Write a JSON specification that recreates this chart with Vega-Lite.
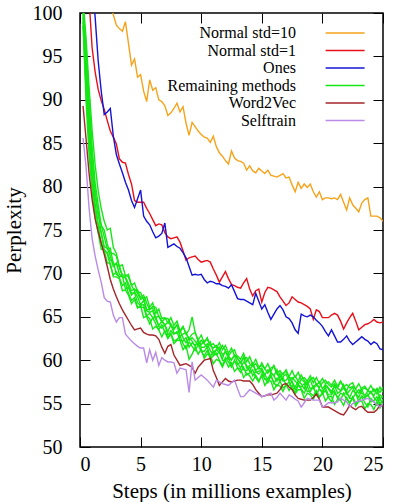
{
  "$schema": "https://vega.github.io/schema/vega-lite/v6.json",
  "width": 303,
  "height": 434,
  "autosize": {"type": "none"},
  "padding": {"left": 80, "top": 13, "right": 17, "bottom": 55},
  "background": "white",
  "datasets": {
    "runs": [
      {"x":0.25,"o":null,"r":null,"b":null,"w":89.3,"s":85.6,"g1":101.5,"g2":101.0,"g3":100.5,"g4":100.0,"g5":99.5,"g6":99.0,"g7":98.5},
      {"x":0.5,"o":null,"r":null,"b":null,"w":85.5,"s":82.3,"g1":97.1,"g2":95.9,"g3":94.7,"g4":93.5,"g5":92.3,"g6":91.1,"g7":89.9},
      {"x":0.75,"o":null,"r":101.5,"b":null,"w":81.5,"s":77.5,"g1":91.4,"g2":90.1,"g3":88.8,"g4":87.5,"g5":86.2,"g6":84.9,"g7":83.6},
      {"x":1.0,"o":null,"r":96.0,"b":104.0,"w":78.5,"s":74.0,"g1":86.5,"g2":84.5,"g3":83.5,"g4":82.5,"g5":81.5,"g6":80.5,"g7":79.5},
      {"x":1.25,"o":null,"r":93.2,"b":99.5,"w":76.3,"s":72.0,"g1":82.5,"g2":80.4,"g3":79.6,"g4":78.8,"g5":78.0,"g6":77.2,"g7":76.4},
      {"x":1.5,"o":null,"r":91.2,"b":94.5,"w":74.8,"s":70.4,"g1":79.5,"g2":77.9,"g3":76.7,"g4":77.0,"g5":75.7,"g6":75.6,"g7":74.7},
      {"x":1.75,"o":null,"r":89.9,"b":91.0,"w":73.5,"s":69.0,"g1":77.5,"g2":75.5,"g3":75.6,"g4":74.7,"g5":74.7,"g6":73.4,"g7":72.8},
      {"x":2.0,"o":null,"r":88.9,"b":88.3,"w":72.2,"s":67.2,"g1":76.0,"g2":75.0,"g3":74.2,"g4":73.1,"g5":72.7,"g6":72.7,"g7":72.7},
      {"x":2.25,"o":null,"r":87.6,"b":88.6,"w":70.8,"s":66.8,"g1":75.0,"g2":73.4,"g3":72.8,"g4":72.9,"g5":72.4,"g6":72.3,"g7":71.2},
      {"x":2.5,"o":101.0,"r":86.4,"b":89.0,"w":69.3,"s":66.7,"g1":75.2,"g2":72.3,"g3":72.9,"g4":72.0,"g5":71.5,"g6":70.9,"g7":71.2},
      {"x":2.75,"o":99.8,"r":85.7,"b":85.8,"w":68.2,"s":65.2,"g1":73.0,"g2":72.3,"g3":71.1,"g4":70.8,"g5":71.3,"g6":69.8,"g7":69.6},
      {"x":3.0,"o":98.6,"r":84.9,"b":83.7,"w":67.3,"s":64.4,"g1":72.3,"g2":72.0,"g3":71.0,"g4":71.2,"g5":69.9,"g6":70.2,"g7":69.6},
      {"x":3.25,"o":98.2,"r":83.2,"b":82.6,"w":66.5,"s":64.9,"g1":70.8,"g2":70.6,"g3":70.9,"g4":69.9,"g5":69.6,"g6":69.5,"g7":69.4},
      {"x":3.5,"o":97.9,"r":82.8,"b":81.6,"w":65.8,"s":64.9,"g1":71.0,"g2":69.8,"g3":69.6,"g4":69.6,"g5":69.7,"g6":68.6,"g7":68.0},
      {"x":3.75,"o":99.0,"r":82.7,"b":80.5,"w":65.2,"s":63.0,"g1":69.7,"g2":69.8,"g3":69.6,"g4":69.5,"g5":68.2,"g6":68.9,"g7":68.1},
      {"x":4.0,"o":96.5,"r":81.4,"b":79.6,"w":64.6,"s":62.6,"g1":69.9,"g2":69.6,"g3":68.8,"g4":68.4,"g5":68.4,"g6":67.7,"g7":67.5},
      {"x":4.25,"o":94.0,"r":80.3,"b":78.4,"w":64.0,"s":62.2,"g1":68.6,"g2":68.6,"g3":68.0,"g4":67.5,"g5":67.7,"g6":66.9,"g7":66.5},
      {"x":4.5,"o":94.7,"r":78.4,"b":77.6,"w":63.5,"s":61.9,"g1":68.9,"g2":68.0,"g3":68.2,"g4":67.9,"g5":67.8,"g6":67.2,"g7":67.0},
      {"x":4.75,"o":92.6,"r":78.2,"b":78.6,"w":63.6,"s":61.6,"g1":67.9,"g2":68.1,"g3":67.7,"g4":67.3,"g5":66.6,"g6":66.1,"g7":66.0},
      {"x":5.0,"o":92.9,"r":78.2,"b":79.6,"w":63.7,"s":61.4,"g1":67.8,"g2":67.2,"g3":67.0,"g4":66.4,"g5":66.3,"g6":66.1,"g7":66.3},
      {"x":5.25,"o":91.0,"r":78.2,"b":76.6,"w":63.2,"s":61.4,"g1":67.0,"g2":67.5,"g3":67.2,"g4":66.9,"g5":66.4,"g6":66.1,"g7":64.9},
      {"x":5.5,"o":89.8,"r":77.5,"b":76.0,"w":63.0,"s":59.7,"g1":67.3,"g2":66.6,"g3":65.8,"g4":65.7,"g5":65.1,"g6":65.0,"g7":65.1},
      {"x":5.75,"o":92.3,"r":76.9,"b":75.6,"w":62.9,"s":61.2,"g1":66.1,"g2":65.8,"g3":65.9,"g4":65.5,"g5":65.4,"g6":64.2,"g7":64.8},
      {"x":6.0,"o":91.1,"r":76.2,"b":74.8,"w":62.9,"s":60.0,"g1":66.6,"g2":66.2,"g3":66.0,"g4":65.7,"g5":64.9,"g6":64.9,"g7":63.6},
      {"x":6.25,"o":91.4,"r":75.5,"b":74.1,"w":62.8,"s":60.9,"g1":65.4,"g2":66.1,"g3":64.9,"g4":64.7,"g5":65.0,"g6":64.2,"g7":63.9},
      {"x":6.5,"o":90.0,"r":75.7,"b":74.3,"w":62.4,"s":59.4,"g1":65.9,"g2":65.0,"g3":65.1,"g4":64.0,"g5":63.9,"g6":63.5,"g7":63.5},
      {"x":6.75,"o":89.8,"r":75.6,"b":74.6,"w":61.5,"s":60.3,"g1":64.8,"g2":64.4,"g3":64.5,"g4":64.5,"g5":63.7,"g6":64.1,"g7":62.7},
      {"x":7.0,"o":89.3,"r":74.7,"b":75.8,"w":60.8,"s":60.0,"g1":64.9,"g2":64.8,"g3":64.0,"g4":64.1,"g5":64.1,"g6":63.2,"g7":63.4},
      {"x":7.25,"o":88.2,"r":74.2,"b":73.0,"w":61.6,"s":59.8,"g1":64.3,"g2":64.8,"g3":64.4,"g4":63.3,"g5":62.9,"g6":62.6,"g7":62.5},
      {"x":7.5,"o":88.5,"r":74.0,"b":73.2,"w":61.8,"s":59.8,"g1":64.9,"g2":64.1,"g3":64.0,"g4":64.1,"g5":63.4,"g6":63.1,"g7":63.0},
      {"x":7.75,"o":89.0,"r":74.1,"b":73.4,"w":60.6,"s":59.7,"g1":64.0,"g2":63.7,"g3":63.5,"g4":63.1,"g5":63.0,"g6":62.2,"g7":61.9},
      {"x":8.0,"o":89.6,"r":74.2,"b":73.1,"w":60.0,"s":58.5,"g1":64.5,"g2":64.0,"g3":64.1,"g4":63.1,"g5":63.3,"g6":62.4,"g7":62.3},
      {"x":8.25,"o":88.6,"r":73.6,"b":72.9,"w":59.4,"s":59.1,"g1":63.4,"g2":63.2,"g3":62.7,"g4":63.4,"g5":62.3,"g6":62.8,"g7":62.3},
      {"x":8.5,"o":89.2,"r":72.6,"b":72.4,"w":59.5,"s":59.0,"g1":63.9,"g2":63.8,"g3":63.0,"g4":62.6,"g5":62.2,"g6":61.9,"g7":61.2},
      {"x":8.75,"o":87.3,"r":71.5,"b":71.8,"w":59.6,"s":58.9,"g1":63.0,"g2":63.1,"g3":63.2,"g4":62.0,"g5":62.6,"g6":61.3,"g7":61.7},
      {"x":9.0,"o":85.9,"r":71.8,"b":70.8,"w":59.4,"s":56.3,"g1":63.5,"g2":62.5,"g3":62.3,"g4":62.6,"g5":61.5,"g6":62.1,"g7":60.1},
      {"x":9.25,"o":87.4,"r":71.9,"b":69.8,"w":59.2,"s":59.8,"g1":65.0,"g2":63.0,"g3":62.6,"g4":62.2,"g5":62.0,"g6":61.6,"g7":60.7},
      {"x":9.5,"o":86.9,"r":72.0,"b":69.9,"w":58.5,"s":57.7,"g1":63.2,"g2":63.2,"g3":62.2,"g4":61.6,"g5":61.7,"g6":61.1,"g7":61.5},
      {"x":9.75,"o":86.4,"r":71.6,"b":69.8,"w":59.2,"s":58.0,"g1":62.3,"g2":62.2,"g3":61.7,"g4":62.4,"g5":62.0,"g6":61.8,"g7":60.7},
      {"x":10.0,"o":86.0,"r":71.3,"b":69.9,"w":59.6,"s":58.3,"g1":62.9,"g2":61.8,"g3":62.3,"g4":61.5,"g5":61.1,"g6":61.0,"g7":61.3},
      {"x":10.25,"o":85.7,"r":71.4,"b":69.3,"w":60.0,"s":58.0,"g1":62.0,"g2":62.2,"g3":61.9,"g4":61.5,"g5":61.0,"g6":60.5,"g7":60.2},
      {"x":10.5,"o":85.6,"r":71.5,"b":68.9,"w":60.1,"s":57.7,"g1":62.6,"g2":62.4,"g3":61.5,"g4":61.9,"g5":61.5,"g6":61.1,"g7":60.7},
      {"x":10.75,"o":85.1,"r":71.3,"b":69.1,"w":60.2,"s":57.3,"g1":61.7,"g2":61.7,"g3":62.1,"g4":61.1,"g5":60.4,"g6":60.2,"g7":60.6},
      {"x":11.0,"o":85.8,"r":70.5,"b":69.0,"w":58.8,"s":56.9,"g1":61.9,"g2":61.4,"g3":60.9,"g4":60.6,"g5":61.0,"g6":60.5,"g7":59.6},
      {"x":11.25,"o":84.6,"r":69.8,"b":68.8,"w":58.0,"s":57.7,"g1":61.4,"g2":61.7,"g3":61.2,"g4":61.2,"g5":60.6,"g6":60.8,"g7":60.1},
      {"x":11.5,"o":83.9,"r":69.0,"b":68.8,"w":57.1,"s":57.5,"g1":62.0,"g2":61.1,"g3":61.5,"g4":60.9,"g5":61.0,"g6":60.0,"g7":59.9},
      {"x":11.75,"o":83.5,"r":69.6,"b":68.6,"w":57.5,"s":57.3,"g1":61.2,"g2":61.7,"g3":60.6,"g4":60.2,"g5":60.0,"g6":59.4,"g7":59.2},
      {"x":12.0,"o":83.0,"r":70.2,"b":68.5,"w":57.9,"s":57.2,"g1":61.7,"g2":61.1,"g3":61.0,"g4":61.1,"g5":60.0,"g6":60.3,"g7":60.0},
      {"x":12.25,"o":82.6,"r":69.4,"b":68.3,"w":57.6,"s":57.1,"g1":60.8,"g2":60.5,"g3":60.5,"g4":60.1,"g5":60.4,"g6":59.8,"g7":59.2},
      {"x":12.5,"o":84.1,"r":68.7,"b":68.7,"w":57.5,"s":57.4,"g1":61.4,"g2":61.0,"g3":60.0,"g4":60.1,"g5":59.3,"g6":59.2,"g7":59.7},
      {"x":12.75,"o":83.3,"r":68.6,"b":67.9,"w":57.6,"s":57.7,"g1":60.5,"g2":61.2,"g3":60.6,"g4":60.5,"g5":59.9,"g6":60.0,"g7":58.7},
      {"x":13.0,"o":83.0,"r":68.4,"b":67.1,"w":57.7,"s":56.7,"g1":60.5,"g2":60.2,"g3":60.2,"g4":59.7,"g5":59.5,"g6":59.1,"g7":59.1},
      {"x":13.25,"o":82.9,"r":68.3,"b":67.0,"w":57.7,"s":55.8,"g1":60.1,"g2":59.7,"g3":59.7,"g4":59.1,"g5":59.8,"g6":58.6,"g7":59.0},
      {"x":13.5,"o":82.7,"r":68.9,"b":67.0,"w":57.6,"s":55.8,"g1":60.8,"g2":60.2,"g3":60.4,"g4":59.8,"g5":58.9,"g6":59.2,"g7":58.0},
      {"x":13.75,"o":81.9,"r":69.4,"b":66.8,"w":57.6,"s":56.2,"g1":59.8,"g2":60.3,"g3":59.1,"g4":59.4,"g5":58.8,"g6":58.3,"g7":58.5},
      {"x":14.0,"o":82.4,"r":68.2,"b":66.6,"w":57.6,"s":56.6,"g1":60.4,"g2":59.6,"g3":59.4,"g4":58.7,"g5":59.2,"g6":58.5,"g7":58.2},
      {"x":14.25,"o":81.8,"r":67.4,"b":66.4,"w":57.2,"s":56.4,"g1":59.5,"g2":59.3,"g3":59.7,"g4":59.6,"g5":58.2,"g6":58.9,"g7":57.6},
      {"x":14.5,"o":81.6,"r":68.0,"b":67.7,"w":56.6,"s":56.2,"g1":60.1,"g2":59.6,"g3":58.8,"g4":58.6,"g5":58.7,"g6":58.0,"g7":58.3},
      {"x":14.75,"o":82.1,"r":68.2,"b":66.8,"w":56.2,"s":56.0,"g1":59.2,"g2":59.0,"g3":59.2,"g4":58.7,"g5":58.4,"g6":57.5,"g7":57.6},
      {"x":15.0,"o":81.8,"r":66.7,"b":65.9,"w":55.8,"s":55.8,"g1":59.4,"g2":59.7,"g3":58.8,"g4":59.1,"g5":58.8,"g6":58.4,"g7":58.2},
      {"x":15.25,"o":81.5,"r":67.8,"b":66.4,"w":55.9,"s":55.9,"g1":59.0,"g2":59.0,"g3":58.3,"g4":58.3,"g5":57.8,"g6":57.9,"g7":57.1},
      {"x":15.5,"o":81.9,"r":68.4,"b":65.5,"w":56.0,"s":56.1,"g1":59.6,"g2":58.5,"g3":58.9,"g4":57.8,"g5":57.8,"g6":57.4,"g7":57.6},
      {"x":15.75,"o":81.3,"r":68.3,"b":64.7,"w":56.0,"s":56.2,"g1":58.7,"g2":59.1,"g3":58.6,"g4":58.5,"g5":58.3,"g6":58.2,"g7":57.6},
      {"x":16.0,"o":81.2,"r":68.1,"b":65.3,"w":56.1,"s":55.4,"g1":59.4,"g2":59.3,"g3":58.2,"g4":58.2,"g5":57.3,"g6":57.4,"g7":56.6},
      {"x":16.25,"o":81.1,"r":67.9,"b":65.9,"w":56.2,"s":55.7,"g1":58.5,"g2":58.4,"g3":58.9,"g4":57.6,"g5":57.9,"g6":57.0,"g7":57.2},
      {"x":16.5,"o":81.3,"r":67.3,"b":66.3,"w":56.6,"s":56.2,"g1":58.8,"g2":58.0,"g3":57.7,"g4":58.5,"g5":57.6,"g6":57.6,"g7":57.0},
      {"x":16.75,"o":81.5,"r":66.8,"b":65.8,"w":57.2,"s":55.8,"g1":58.3,"g2":58.5,"g3":58.1,"g4":57.6,"g5":58.0,"g6":56.8,"g7":56.4},
      {"x":17.0,"o":81.0,"r":66.3,"b":65.0,"w":57.3,"s":55.4,"g1":58.9,"g2":58.7,"g3":58.4,"g4":57.7,"g5":57.1,"g6":57.1,"g7":57.2},
      {"x":17.25,"o":81.1,"r":66.6,"b":64.8,"w":56.9,"s":56.0,"g1":58.1,"g2":58.1,"g3":57.6,"g4":58.1,"g5":57.1,"g6":57.5,"g7":56.5},
      {"x":17.5,"o":80.2,"r":67.3,"b":64.3,"w":56.6,"s":55.8,"g1":58.8,"g2":57.8,"g3":58.0,"g4":57.4,"g5":57.6,"g6":56.7,"g7":57.1},
      {"x":17.75,"o":79.4,"r":67.0,"b":63.5,"w":56.0,"s":55.5,"g1":58.0,"g2":58.2,"g3":57.6,"g4":56.9,"g5":56.6,"g6":56.2,"g7":56.1},
      {"x":18.0,"o":80.5,"r":66.7,"b":63.1,"w":55.6,"s":55.3,"g1":58.6,"g2":57.6,"g3":57.2,"g4":57.6,"g5":57.2,"g6":57.1,"g7":56.6},
      {"x":18.25,"o":79.8,"r":66.6,"b":65.3,"w":55.5,"s":54.6,"g1":57.8,"g2":58.3,"g3":57.8,"g4":57.3,"g5":56.9,"g6":56.7,"g7":56.6},
      {"x":18.5,"o":80.3,"r":66.4,"b":65.1,"w":55.4,"s":55.1,"g1":58.0,"g2":57.7,"g3":57.5,"g4":56.7,"g5":57.3,"g6":56.2,"g7":55.6},
      {"x":18.75,"o":79.9,"r":66.2,"b":65.0,"w":55.4,"s":55.6,"g1":57.6,"g2":57.2,"g3":57.1,"g4":57.6,"g5":56.4,"g6":57.0,"g7":56.2},
      {"x":19.0,"o":80.3,"r":65.9,"b":65.2,"w":55.4,"s":55.5,"g1":58.2,"g2":57.8,"g3":57.8,"g4":56.7,"g5":56.4,"g6":56.2,"g7":56.0},
      {"x":19.25,"o":79.4,"r":64.7,"b":65.0,"w":55.7,"s":55.4,"g1":57.4,"g2":58.0,"g3":56.7,"g4":56.9,"g5":57.0,"g6":55.9,"g7":55.5},
      {"x":19.5,"o":78.8,"r":65.8,"b":64.6,"w":56.1,"s":55.4,"g1":58.0,"g2":57.2,"g3":57.1,"g4":57.3,"g5":56.0,"g6":56.5,"g7":56.3},
      {"x":19.75,"o":79.4,"r":65.6,"b":64.3,"w":55.5,"s":55.4,"g1":57.3,"g2":56.9,"g3":57.5,"g4":56.7,"g5":56.7,"g6":55.8,"g7":55.7},
      {"x":20.0,"o":78.5,"r":64.9,"b":63.9,"w":54.6,"s":54.6,"g1":57.9,"g2":57.4,"g3":56.7,"g4":56.2,"g5":56.4,"g6":56.1,"g7":56.3},
      {"x":20.25,"o":78.7,"r":64.9,"b":63.3,"w":54.6,"s":54.8,"g1":57.3,"g2":57.7,"g3":57.2,"g4":57.0,"g5":56.8,"g6":56.5,"g7":55.3},
      {"x":20.5,"o":78.7,"r":64.9,"b":62.8,"w":54.6,"s":55.1,"g1":57.5,"g2":57.2,"g3":56.8,"g4":56.7,"g5":56.0,"g6":55.7,"g7":55.8},
      {"x":20.75,"o":78.6,"r":65.2,"b":63.5,"w":54.4,"s":55.1,"g1":57.1,"g2":56.9,"g3":56.4,"g4":56.1,"g5":56.0,"g6":55.2,"g7":55.8},
      {"x":21.0,"o":78.7,"r":65.4,"b":62.8,"w":54.2,"s":55.1,"g1":57.7,"g2":57.3,"g3":57.1,"g4":57.1,"g5":56.5,"g6":56.2,"g7":54.9},
      {"x":21.25,"o":78.5,"r":65.2,"b":62.1,"w":54.0,"s":55.2,"g1":57.0,"g2":56.8,"g3":56.8,"g4":56.2,"g5":55.6,"g6":55.8,"g7":55.5},
      {"x":21.5,"o":79.1,"r":64.5,"b":62.1,"w":53.8,"s":55.6,"g1":57.6,"g2":57.5,"g3":56.5,"g4":56.4,"g5":56.2,"g6":55.4,"g7":55.4},
      {"x":21.75,"o":78.2,"r":63.6,"b":62.4,"w":53.7,"s":55.4,"g1":56.9,"g2":57.0,"g3":57.2,"g4":56.8,"g5":56.0,"g6":56.2,"g7":54.8},
      {"x":22.0,"o":77.3,"r":64.3,"b":62.8,"w":54.2,"s":55.2,"g1":57.2,"g2":56.5,"g3":56.1,"g4":56.2,"g5":56.4,"g6":55.5,"g7":55.7},
      {"x":22.25,"o":78.7,"r":64.9,"b":62.2,"w":54.8,"s":54.6,"g1":56.8,"g2":57.2,"g3":56.5,"g4":55.7,"g5":55.6,"g6":55.1,"g7":55.0},
      {"x":22.5,"o":77.9,"r":65.4,"b":61.8,"w":54.5,"s":55.0,"g1":57.0,"g2":57.4,"g3":56.9,"g4":56.5,"g5":55.6,"g6":55.8,"g7":55.7},
      {"x":22.75,"o":77.5,"r":64.5,"b":62.1,"w":54.3,"s":55.2,"g1":56.7,"g2":56.6,"g3":56.1,"g4":56.2,"g5":56.2,"g6":55.0,"g7":54.7},
      {"x":23.0,"o":77.1,"r":63.5,"b":62.4,"w":54.6,"s":55.3,"g1":57.3,"g2":56.2,"g3":56.6,"g4":55.7,"g5":55.2,"g6":55.4,"g7":55.3},
      {"x":23.25,"o":78.1,"r":63.8,"b":62.7,"w":54.7,"s":55.4,"g1":56.6,"g2":56.8,"g3":56.2,"g4":56.6,"g5":55.9,"g6":55.8,"g7":55.3},
      {"x":23.5,"o":78.5,"r":64.1,"b":62.4,"w":54.3,"s":55.5,"g1":56.8,"g2":57.0,"g3":55.9,"g4":55.8,"g5":55.6,"g6":55.1,"g7":54.4},
      {"x":23.75,"o":78.7,"r":64.2,"b":62.2,"w":54.0,"s":55.6,"g1":56.5,"g2":56.5,"g3":56.5,"g4":55.9,"g5":56.1,"g6":54.6,"g7":55.0},
      {"x":24.0,"o":76.6,"r":64.4,"b":61.8,"w":54.0,"s":55.4,"g1":57.1,"g2":56.2,"g3":56.3,"g4":56.4,"g5":55.2,"g6":55.6,"g7":54.9},
      {"x":24.25,"o":76.6,"r":64.7,"b":62.1,"w":54.0,"s":55.2,"g1":56.4,"g2":56.7,"g3":55.9,"g4":55.7,"g5":55.3,"g6":55.2,"g7":54.3},
      {"x":24.5,"o":76.6,"r":64.4,"b":61.9,"w":54.3,"s":54.9,"g1":56.7,"g2":56.1,"g3":56.7,"g4":55.3,"g5":55.8,"g6":54.8,"g7":55.2},
      {"x":24.75,"o":76.4,"r":64.3,"b":61.3,"w":54.8,"s":54.6,"g1":56.3,"g2":56.9,"g3":55.5,"g4":56.0,"g5":54.9,"g6":55.6,"g7":54.5},
      {"x":25.0,"o":76.0,"r":64.4,"b":61.2,"w":54.7,"s":55.0,"g1":56.9,"g2":56.3,"g3":55.9,"g4":55.7,"g5":55.5,"g6":54.8,"g7":55.1}
    ]
  },
  "data": {"name": "runs"},
  "layer": [
    {
      "transform": [{"fold": ["o", "r", "b"], "as": ["series", "perplexity"]}],
      "mark": {"type": "line", "clip": true, "strokeWidth": 1.4},
      "encoding": {
        "x": {
          "field": "x", "type": "quantitative",
          "scale": {"domain": [0, 25], "nice": false},
          "axis": {"orient": "bottom", "values": [0, 5, 10, 15, 20, 25], "labelPadding": 17, "title": "Steps (in millions examples)", "titlePadding": 6}
        },
        "y": {
          "field": "perplexity", "type": "quantitative",
          "scale": {"domain": [50, 100], "nice": false, "zero": false},
          "axis": {"orient": "left", "values": [50, 55, 60, 65, 70, 75, 80, 85, 90, 95, 100], "labelPadding": 28, "title": "Perplexity", "titlePadding": 8}
        },
        "color": {
          "field": "series", "type": "nominal",
          "scale": {"domain": ["o", "r", "b", "g", "w", "s"], "range": ["#f5a31a", "#e8101a", "#1414d6", "#16e616", "#a3262a", "#b98ae6"]},
          "legend": {
            "title": null,
            "orient": "none",
            "legendX": 215,
            "legendY": 12,
            "padding": 0,
            "symbolType": "M 22.6,0 H 61.6",
            "symbolSize": 4,
            "symbolStrokeWidth": 1.5,
            "labelAlign": "right",
            "labelOffset": -15,
            "labelFont": "Liberation Serif",
            "labelFontSize": 16,
            "labelFontWeight": "normal",
            "labelColor": "#000",
            "rowPadding": 1.5,
            "labelExpr": "datum.label == 'o' ? 'Normal std=10' : datum.label == 'r' ? 'Normal std=1' : datum.label == 'b' ? 'Ones' : datum.label == 'g' ? 'Remaining methods' : datum.label == 'w' ? 'Word2Vec' : 'Selftrain'"
          }
        }
      }
    },
    {
      "transform": [{"fold": ["g1", "g2", "g3", "g4", "g5", "g6", "g7"], "as": ["run", "perplexity"]}],
      "mark": {"type": "line", "clip": true, "strokeWidth": 1.4},
      "encoding": {
        "x": {"field": "x", "type": "quantitative", "axis": null},
        "y": {"field": "perplexity", "type": "quantitative", "axis": null},
        "color": {"datum": "g", "type": "nominal"},
        "detail": {"field": "run", "type": "nominal"}
      }
    },
    {
      "transform": [{"fold": ["w", "s"], "as": ["series", "perplexity"]}],
      "mark": {"type": "line", "clip": true, "strokeWidth": 1.4},
      "encoding": {
        "x": {"field": "x", "type": "quantitative", "axis": {"orient": "top", "values": [0, 5, 10, 15, 20, 25], "labels": false, "title": null}},
        "y": {"field": "perplexity", "type": "quantitative", "axis": {"orient": "right", "values": [50, 55, 60, 65, 70, 75, 80, 85, 90, 95, 100], "labels": false, "title": null}},
        "color": {"field": "series", "type": "nominal"}
      }
    }
  ],
  "config": {
    "font": "Liberation Serif",
    "view": {"stroke": "#000", "strokeWidth": 1.5},
    "axis": {
      "grid": false,
      "domain": false,
      "ticks": true,
      "tickColor": "#000",
      "tickSize": -10,
      "tickWidth": 1,
      "labelFont": "Liberation Serif",
      "labelFontSize": 20,
      "labelFontWeight": "normal",
      "labelColor": "#000",
      "titleFont": "Liberation Serif",
      "titleFontSize": 21,
      "titleFontWeight": "normal",
      "titleColor": "#000"
    }
  }
}
